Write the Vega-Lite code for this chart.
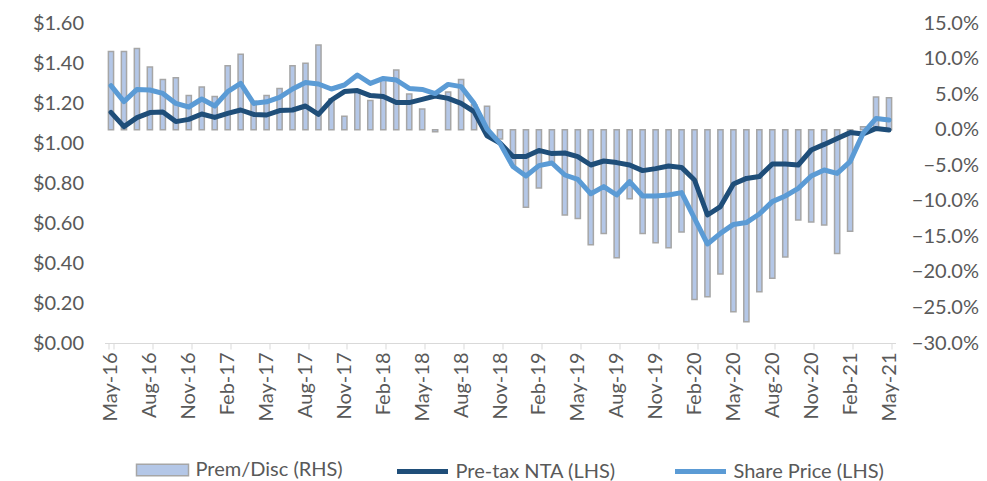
{
  "$schema": "https://vega.github.io/schema/vega-lite/v6.json",
  "width": 791,
  "height": 320,
  "autosize": "none",
  "padding": {"left": 104.5, "top": 23, "right": 91.5, "bottom": 138},
  "background": "white",
  "config": {
    "view": {"stroke": null},
    "font": "Lato",
    "axis": {"labelFont": "Lato", "labelFontSize": 20, "labelColor": "#595959", "grid": false, "titleFont": "Lato", "labelOverlap": false},
    "legend": {"labelFont": "Lato", "labelFontSize": 20, "labelColor": "#595959"}
  },
  "data": {
    "values": [
      {"m": "May-16", "prem": 0.110, "nta": 1.153, "price": 1.287},
      {"m": "Jun-16", "prem": 0.110, "nta": 1.082, "price": 1.207},
      {"m": "Jul-16", "prem": 0.114, "nta": 1.127, "price": 1.268},
      {"m": "Aug-16", "prem": 0.088, "nta": 1.152, "price": 1.265},
      {"m": "Sep-16", "prem": 0.0705, "nta": 1.155, "price": 1.248},
      {"m": "Oct-16", "prem": 0.073, "nta": 1.107, "price": 1.198},
      {"m": "Nov-16", "prem": 0.048, "nta": 1.118, "price": 1.180},
      {"m": "Dec-16", "prem": 0.060, "nta": 1.145, "price": 1.220},
      {"m": "Jan-17", "prem": 0.0465, "nta": 1.128, "price": 1.185},
      {"m": "Feb-17", "prem": 0.090, "nta": 1.148, "price": 1.257},
      {"m": "Mar-17", "prem": 0.106, "nta": 1.165, "price": 1.298},
      {"m": "Apr-17", "prem": 0.040, "nta": 1.143, "price": 1.198},
      {"m": "May-17", "prem": 0.048, "nta": 1.140, "price": 1.206},
      {"m": "Jun-17", "prem": 0.058, "nta": 1.162, "price": 1.228},
      {"m": "Jul-17", "prem": 0.090, "nta": 1.165, "price": 1.270},
      {"m": "Aug-17", "prem": 0.0935, "nta": 1.185, "price": 1.302},
      {"m": "Sep-17", "prem": 0.119, "nta": 1.143, "price": 1.295},
      {"m": "Oct-17", "prem": 0.043, "nta": 1.215, "price": 1.270},
      {"m": "Nov-17", "prem": 0.019, "nta": 1.257, "price": 1.290},
      {"m": "Dec-17", "prem": 0.056, "nta": 1.262, "price": 1.340},
      {"m": "Jan-18", "prem": 0.041, "nta": 1.237, "price": 1.298},
      {"m": "Feb-18", "prem": 0.070, "nta": 1.232, "price": 1.323},
      {"m": "Mar-18", "prem": 0.084, "nta": 1.202, "price": 1.315},
      {"m": "Apr-18", "prem": 0.050, "nta": 1.202, "price": 1.273},
      {"m": "May-18", "prem": 0.029, "nta": 1.218, "price": 1.268},
      {"m": "Jun-18", "prem": -0.003, "nta": 1.235, "price": 1.247},
      {"m": "Jul-18", "prem": 0.053, "nta": 1.223, "price": 1.293},
      {"m": "Aug-18", "prem": 0.0705, "nta": 1.198, "price": 1.282},
      {"m": "Sep-18", "prem": 0.035, "nta": 1.157, "price": 1.198},
      {"m": "Oct-18", "prem": 0.033, "nta": 1.036, "price": 1.070},
      {"m": "Nov-18", "prem": -0.013, "nta": 1.000, "price": 0.998},
      {"m": "Dec-18", "prem": -0.050, "nta": 0.932, "price": 0.882},
      {"m": "Jan-19", "prem": -0.109, "nta": 0.932, "price": 0.835},
      {"m": "Feb-19", "prem": -0.082, "nta": 0.963, "price": 0.887},
      {"m": "Mar-19", "prem": -0.048, "nta": 0.947, "price": 0.900},
      {"m": "Apr-19", "prem": -0.120, "nta": 0.950, "price": 0.840},
      {"m": "May-19", "prem": -0.125, "nta": 0.932, "price": 0.818},
      {"m": "Jun-19", "prem": -0.162, "nta": 0.890, "price": 0.746},
      {"m": "Jul-19", "prem": -0.146, "nta": 0.910, "price": 0.782},
      {"m": "Aug-19", "prem": -0.180, "nta": 0.902, "price": 0.740},
      {"m": "Sep-19", "prem": -0.097, "nta": 0.890, "price": 0.807},
      {"m": "Oct-19", "prem": -0.146, "nta": 0.862, "price": 0.735},
      {"m": "Nov-19", "prem": -0.159, "nta": 0.872, "price": 0.735},
      {"m": "Dec-19", "prem": -0.166, "nta": 0.885, "price": 0.740},
      {"m": "Jan-20", "prem": -0.144, "nta": 0.878, "price": 0.752},
      {"m": "Feb-20", "prem": -0.239, "nta": 0.815, "price": 0.623},
      {"m": "Mar-20", "prem": -0.235, "nta": 0.640, "price": 0.495},
      {"m": "Apr-20", "prem": -0.203, "nta": 0.682, "price": 0.548},
      {"m": "May-20", "prem": -0.256, "nta": 0.795, "price": 0.593},
      {"m": "Jun-20", "prem": -0.270, "nta": 0.823, "price": 0.602},
      {"m": "Jul-20", "prem": -0.228, "nta": 0.832, "price": 0.645},
      {"m": "Aug-20", "prem": -0.209, "nta": 0.895, "price": 0.707},
      {"m": "Sep-20", "prem": -0.179, "nta": 0.895, "price": 0.735},
      {"m": "Oct-20", "prem": -0.127, "nta": 0.890, "price": 0.773},
      {"m": "Nov-20", "prem": -0.130, "nta": 0.965, "price": 0.835},
      {"m": "Dec-20", "prem": -0.134, "nta": 0.993, "price": 0.865},
      {"m": "Jan-21", "prem": -0.174, "nta": 1.023, "price": 0.848},
      {"m": "Feb-21", "prem": -0.143, "nta": 1.052, "price": 0.907},
      {"m": "Mar-21", "prem": 0.004, "nta": 1.045, "price": 1.048},
      {"m": "Apr-21", "prem": 0.046, "nta": 1.073, "price": 1.123},
      {"m": "May-21", "prem": 0.045, "nta": 1.065, "price": 1.115}
    ]
  },
  "encoding": {
    "x": {
      "field": "m",
      "type": "ordinal",
      "sort": null,
      "scale": {"paddingInner": 0.6, "paddingOuter": 0.3},
      "axis": {
        "title": null,
        "values": ["May-16","Aug-16","Nov-16","Feb-17","May-17","Aug-17","Nov-17","Feb-18","May-18","Aug-18","Nov-18","Feb-19","May-19","Aug-19","Nov-19","Feb-20","May-20","Aug-20","Nov-20","Feb-21","May-21"],
        "labelAngle": -90,
        "labelAlign": "right",
        "labelBaseline": "middle",
        "tickBand": "extent",
        "tickSize": 6,
        "tickColor": "#D9D9D9",
        "domainColor": "#D9D9D9",
        "domainWidth": 1,
        "labelPadding": 3
      }
    }
  },
  "layer": [
    {
      "mark": {"type": "bar", "stroke": "#A6A6A6", "strokeWidth": 1.5},
      "encoding": {
        "y": {
          "field": "prem",
          "type": "quantitative",
          "scale": {"domain": [-0.3, 0.15], "nice": false, "zero": false},
          "axis": {
            "orient": "right",
            "title": null,
            "format": ".1%",
            "values": [-0.3, -0.25, -0.2, -0.15, -0.1, -0.05, 0, 0.05, 0.1, 0.15],
            "domain": false,
            "ticks": false,
            "tickSize": 0,
            "labelAlign": "right",
            "labelPadding": 83,
            "labelOverlap": false
          }
        },
        "fill": {
          "datum": "Prem/Disc (RHS)",
          "scale": {"domain": ["Prem/Disc (RHS)"], "range": ["#B4C7E7"]},
          "legend": {
            "title": null,
            "orient": "none",
            "legendX": 31,
            "legendY": 420,
            "labelOffset": 6,
            "labelLimit": 400,
            "symbolType": "M-1,-0.22H1V0.22H-1Z",
            "symbolSize": 2704,
            "symbolStrokeColor": "#A6A6A6",
            "symbolStrokeWidth": 1.5,
            "symbolOpacity": 1
          }
        }
      }
    },
    {
      "layer": [
        {
          "mark": {"type": "line", "strokeWidth": 5, "strokeJoin": "round", "strokeCap": "round"},
          "encoding": {
            "y": {
              "field": "nta",
              "type": "quantitative",
              "scale": {"domain": [0, 1.6], "nice": false},
              "axis": {
                "orient": "left",
                "title": null,
                "format": "$.2f",
                "values": [0, 0.2, 0.4, 0.6, 0.8, 1.0, 1.2, 1.4, 1.6],
                "domain": false,
                "ticks": false,
                "tickSize": 0,
                "labelPadding": 21,
                "labelOverlap": false,
                "labelSeparation": 0
              }
            },
            "stroke": {
              "datum": "Pre-tax NTA (LHS)",
              "scale": {"domain": ["Pre-tax NTA (LHS)", "Share Price (LHS)"], "range": ["#1F4E79", "#5B9BD5"]},
              "legend": {
                "title": null,
                "orient": "none",
                "direction": "horizontal",
                "legendX": 290,
                "legendY": 420.5,
                "columnPadding": 48,
                "labelOffset": 5,
                "labelLimit": 400,
                "symbolType": "stroke",
                "symbolSize": 2601,
                "symbolStrokeWidth": 5,
                "symbolOpacity": 1
              }
            }
          }
        },
        {
          "mark": {"type": "line", "strokeWidth": 5, "strokeJoin": "round", "strokeCap": "round"},
          "encoding": {
            "y": {
              "field": "price",
              "type": "quantitative",
              "axis": {
                "orient": "left",
                "title": null,
                "format": "$.2f",
                "values": [0, 0.2, 0.4, 0.6, 0.8, 1.0, 1.2, 1.4, 1.6],
                "domain": false,
                "ticks": false,
                "tickSize": 0,
                "labelPadding": 21,
                "labelOverlap": false,
                "labelSeparation": 0
              }
            },
            "stroke": {"datum": "Share Price (LHS)"}
          }
        }
      ]
    }
  ],
  "resolve": {"scale": {"y": "independent"}}
}
